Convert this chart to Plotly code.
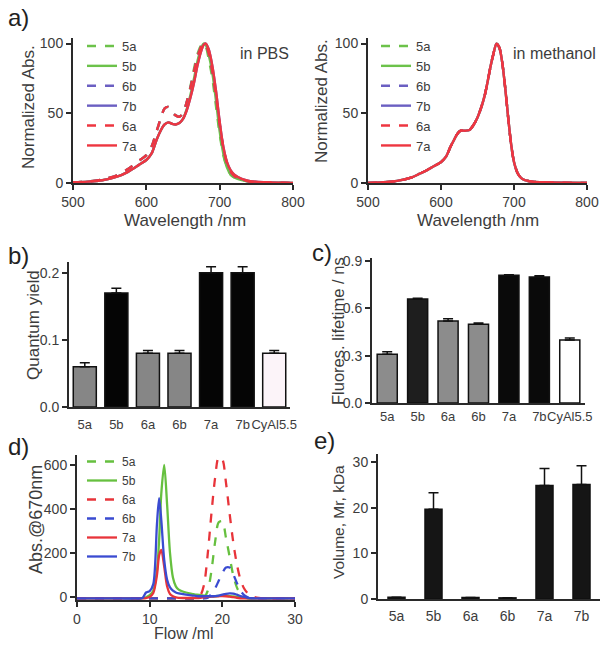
import plotly.graph_objects as go

W, H = 613, 649

# ---------------- data ----------------
# a) PBS spectra
wl_pbs = [500, 520, 540, 560, 575, 590, 600, 607, 614, 620, 625, 630, 635, 640, 645, 650, 655, 660,
          665, 670, 675, 678, 681, 685, 690, 695, 700, 705, 710, 715, 720, 730, 740, 760, 800]
pbs_7a = [0.5, 1, 2, 4.5, 8, 13, 16.5, 21, 31, 38, 42, 43.5, 42.5, 42, 43, 46, 52, 61,
          72, 85, 95, 99, 100, 96, 84, 66, 44, 26, 15, 9, 6, 3, 1.5, 0.5, 0]
pbs_7b = [0.5, 1, 2, 4.5, 8, 13, 16.5, 21, 31, 38, 42, 43.5, 42.5, 42, 43, 46, 52, 61,
          72, 85, 95, 99, 100, 96, 84, 66, 44, 26, 15, 9, 6, 3, 1.5, 0.5, 0]
pbs_5b = [0.5, 1, 2, 4.5, 8, 13, 16.5, 21, 31, 38, 42, 43.5, 42.5, 42, 43, 46, 53, 63,
          75, 88, 97, 100, 99, 92, 79, 59, 37, 21, 11, 6, 4, 2, 1, 0.5, 0]
pbs_6a = [0.5, 1, 2.5, 5.5, 10, 16, 20, 26, 37, 47, 53.5, 54.5, 51, 48.5, 47.5, 50, 58, 68,
          80, 91, 98, 100, 99, 93, 80, 62, 42, 25, 14, 8, 5, 2.5, 1, 0.5, 0]
pbs_6b = [0.5, 1, 2.5, 5.5, 10, 16, 20, 26, 37, 47, 53.5, 54.5, 51, 48.5, 47.5, 50, 58, 68,
          80, 91, 98, 100, 99, 93, 80, 62, 42, 25, 14, 8, 5, 2.5, 1, 0.5, 0]
pbs_5a = [0.5, 1, 2.5, 5.5, 10, 16, 20, 26, 37, 47, 53.5, 54.5, 51, 48.5, 47.5, 50, 58, 69,
          82, 93, 99, 100, 98, 89, 75, 55, 35, 20, 11, 6, 4, 2, 1, 0.5, 0]

# a) methanol spectra (all compounds overlap)
wl_meoh = [500, 520, 540, 560, 570, 580, 590, 600, 607, 613, 618, 622, 627, 633, 639, 645, 650, 655,
           660, 664, 668, 672, 676, 680, 684, 688, 692, 696, 700, 705, 710, 715, 725, 740, 800]
meoh = [0, 0.5, 1.5, 4, 6.5, 9, 12, 15, 19, 26, 31, 35, 37.5, 37.5, 38, 42, 47, 54,
        63, 73, 84, 93, 100, 97, 86, 68, 47, 28, 15, 7, 3.5, 2, 1, 0.5, 0]

# b) quantum yield
cats_bc = ["5a", "5b", "6a", "6b", "7a", "7b", "CyAl5.5"]
qy = [0.06, 0.17, 0.08, 0.08, 0.20, 0.20, 0.08]
qy_err = [0.006, 0.007, 0.004, 0.004, 0.009, 0.009, 0.004]
qy_colors = ["#868686", "#050505", "#868686", "#868686", "#050505", "#050505", "#fcf4f9"]

# c) fluorescence lifetime
lt = [0.31, 0.66, 0.52, 0.50, 0.81, 0.80, 0.40]
lt_err = [0.015, 0.004, 0.015, 0.007, 0.004, 0.008, 0.012]
lt_colors = ["#8c8c8c", "#1e1e1e", "#8c8c8c", "#8c8c8c", "#0a0a0a", "#0a0a0a", "#ffffff"]

# d) chromatograms
flow = [0, 3, 6, 8, 9, 9.5, 10, 10.5, 11, 11.3, 11.6, 12, 12.4, 12.8, 13.2, 13.6, 14, 15, 16, 16.5,
        17, 17.5, 18, 18.5, 19, 19.5, 20, 20.5, 21, 21.5, 22, 22.5, 23, 23.5, 24, 25, 26, 28, 30]
sec_5a = [-5, -5, -5, -5, -5, -5, -5, -5, -5, -5, -5, -5, -5, -5, -5, -5, -5, -5, -5, -5,
          -5, 0, 30, 120, 250, 340, 345, 270, 185, 100, 45, 15, 2, -3, -5, -5, -5, -5, -5]
sec_5b = [-5, -5, -5, -5, -4, 0, 10, 30, 120, 260, 470, 600, 420, 200, 90, 50, 35, 22, 15, 12,
          10, 8, 6, 5, 5, 7, 8, 7, 6, 4, 2, 0, -2, -4, -5, -5, -5, -5, -5]
sec_6a = [-5, -5, -5, -5, -5, -5, -5, -5, -5, -5, -5, -5, -5, -5, -5, -5, -5, -5, -5, -3,
          10, 60, 200, 380, 540, 635, 625, 520, 380, 250, 150, 80, 40, 18, 5, -3, -5, -5, -5]
sec_6b = [-5, -5, -5, -5, -5, -5, -5, -5, -5, -5, -5, -5, -5, -5, -5, -5, -5, -5, -5, -5,
          -5, -5, -2, 15, 40, 75, 110, 135, 135, 105, 65, 30, 10, 0, -4, -5, -5, -5, -5]
sec_7a = [-5, -5, -5, -5, -5, -3, 2, 20, 100, 190, 215, 140, 50, 15, 5, 0, -2, -3, -3, -3,
          -2, 0, 2, 3, 4, 5, 6, 5, 3, 1, -2, -4, -5, -5, -5, -5, -5, -5, -5]
sec_7b = [-5, -5, -5, -5, -3, 22, 28, 60, 330, 450, 350, 170, 80, 45, 30, 22, 18, 12, 8, 6,
          5, 5, 5, 5, 6, 8, 12, 16, 18, 17, 12, 6, 2, -2, -4, -5, -5, -5, -5]

# e) apparent size
cats_e = ["5a", "5b", "6a", "6b", "7a", "7b"]
vol = [0.4, 19.7, 0.35, 0.25, 24.9, 25.1]
vol_err = [0, 3.6, 0, 0, 3.7, 4.1]

# ---------------- styling ----------------
GREEN_A, PURPLE_A, RED_A = "#6cc24a", "#6b5fc2", "#ee3640"
GREEN_D, RED_D, BLUE_D = "#66c03f", "#e8343a", "#3a4bd1"
TXT = "#3c3c3c"
AX = "#2a2a2a"
FONT = "Liberation Sans, Arial, sans-serif"


def px_x(p):
    return p / W


def px_y(p):
    return 1 - p / H


fig = go.Figure()

# a-left
pbs_series = [("5a", pbs_5a, GREEN_A, "dash"), ("5b", pbs_5b, GREEN_A, "solid"),
              ("6b", pbs_6b, PURPLE_A, "dash"), ("7b", pbs_7b, PURPLE_A, "solid"),
              ("6a", pbs_6a, RED_A, "dash"), ("7a", pbs_7a, RED_A, "solid")]
for name, ys, col, dash in pbs_series:
    fig.add_trace(go.Scatter(x=wl_pbs, y=ys, name=name, mode="lines", line_shape="spline",
                             line=dict(color=col, width=2.4, dash=dash, smoothing=0.8),
                             xaxis="x", yaxis="y", legend="legend"))

# a-right
meoh_series = [("5a", GREEN_A, "dash"), ("5b", GREEN_A, "solid"), ("6b", PURPLE_A, "dash"),
               ("7b", PURPLE_A, "solid"), ("6a", RED_A, "dash"), ("7a", RED_A, "solid")]
for name, col, dash in meoh_series:
    fig.add_trace(go.Scatter(x=wl_meoh, y=meoh, name=name, mode="lines", line_shape="spline",
                             line=dict(color=col, width=2.4, dash=dash, smoothing=0.8),
                             xaxis="x2", yaxis="y2", legend="legend2"))

# b
fig.add_trace(go.Bar(x=cats_bc, y=qy, width=0.73,
                     marker=dict(color=qy_colors, line=dict(color="#111", width=1.5)),
                     error_y=dict(type="data", array=qy_err, arrayminus=[0] * len(qy), symmetric=False,
                                  color="#111", thickness=1.5, width=5),
                     xaxis="x3", yaxis="y3", showlegend=False))
# c
fig.add_trace(go.Bar(x=cats_bc, y=lt, width=0.66,
                     marker=dict(color=lt_colors, line=dict(color="#111", width=1.5)),
                     error_y=dict(type="data", array=lt_err, arrayminus=[0] * len(lt), symmetric=False,
                                  color="#111", thickness=1.5, width=5),
                     xaxis="x4", yaxis="y4", showlegend=False))

# d
sec_series = [("5a", sec_5a, GREEN_D, "dash"), ("5b", sec_5b, GREEN_D, "solid"),
              ("6a", sec_6a, RED_D, "dash"), ("6b", sec_6b, BLUE_D, "dash"),
              ("7a", sec_7a, RED_D, "solid"), ("7b", sec_7b, BLUE_D, "solid")]
for name, ys, col, dash in sec_series:
    fig.add_trace(go.Scatter(x=flow, y=ys, name=name, mode="lines", line_shape="spline",
                             line=dict(color=col, width=2.3, dash=dash, smoothing=0.8),
                             xaxis="x5", yaxis="y5", legend="legend3"))

# e
fig.add_trace(go.Bar(x=cats_e, y=vol, width=0.46,
                     marker=dict(color="#151515", line=dict(color="#111", width=1.5)),
                     error_y=dict(type="data", array=vol_err, arrayminus=[0] * len(vol), symmetric=False,
                                  color="#111", thickness=1.5, width=5),
                     xaxis="x6", yaxis="y6", showlegend=False))


def xax(l, r, **kw):
    d = dict(domain=[px_x(l), px_x(r)], showline=True, linecolor=AX, linewidth=2,
             showgrid=False, zeroline=False, ticks="outside", ticklen=5, tickwidth=1.5,
             tickcolor=AX, tickfont=dict(size=14, color=TXT, family=FONT), automargin=False)
    d.update(kw)
    return d


def yax(top, bottom, **kw):
    d = dict(domain=[px_y(bottom), px_y(top)], showline=True, linecolor=AX, linewidth=2,
             showgrid=False, zeroline=False, ticks="outside", ticklen=5, tickwidth=1.5,
             tickcolor=AX, tickfont=dict(size=14, color=TXT, family=FONT), automargin=False)
    d.update(kw)
    return d


fig.update_layout(
    width=W, height=H, margin=dict(l=0, r=0, t=0, b=0, autoexpand=False),
    paper_bgcolor="white", plot_bgcolor="white",
    font=dict(family=FONT, color=TXT),
    xaxis=xax(73, 293, anchor="y", range=[500, 800], tickvals=[500, 600, 700, 800]),
    yaxis=yax(38, 183, anchor="x", range=[0, 104], tickvals=[0, 50, 100]),
    xaxis2=xax(368, 587, anchor="y2", range=[500, 800], tickvals=[500, 600, 700, 800]),
    yaxis2=yax(38, 183, anchor="x2", range=[0, 104], tickvals=[0, 50, 100]),
    xaxis3=xax(69, 290, anchor="y3", type="category", ticks="", ticklabelstandoff=4, tickangle=0,
               tickfont=dict(size=13, color=TXT, family=FONT)),
    yaxis3=yax(262, 407, anchor="x3", range=[0, 0.216], tickvals=[0, 0.1, 0.2],
               ticktext=["0.0", "0.1", "0.2"]),
    xaxis4=xax(372, 585, anchor="y4", type="category", ticks="", ticklabelstandoff=0, tickangle=0,
               tickfont=dict(size=13, color=TXT, family=FONT)),
    yaxis4=yax(258, 403, anchor="x4", range=[0, 0.92], tickvals=[0, 0.3, 0.6, 0.9],
               ticktext=["0.0", "0.3", "0.6", "0.9"]),
    xaxis5=xax(77, 295, anchor="y5", range=[0, 30], tickvals=[0, 10, 20, 30]),
    yaxis5=yax(455, 600, anchor="x5", range=[-12, 645], tickvals=[0, 200, 400, 600]),
    xaxis6=xax(378, 600, anchor="y6", type="category", ticks="", ticklabelstandoff=3, tickangle=0,
               tickfont=dict(size=14, color=TXT, family=FONT)),
    yaxis6=yax(454, 599, anchor="x6", range=[0, 31.8], tickvals=[0, 10, 20, 30]),
    legend=dict(x=px_x(82), y=px_y(31), xanchor="left", yanchor="top", bgcolor="rgba(0,0,0,0)",
                font=dict(size=13, color=TXT, family=FONT), tracegroupgap=0),
    legend2=dict(x=px_x(376), y=px_y(31), xanchor="left", yanchor="top", bgcolor="rgba(0,0,0,0)",
                 font=dict(size=13, color=TXT, family=FONT), tracegroupgap=0),
    legend3=dict(x=px_x(82), y=px_y(447), xanchor="left", yanchor="top", bgcolor="rgba(0,0,0,0)",
                 font=dict(size=12, color=TXT, family=FONT), tracegroupgap=0),
)


def label(text, x, y, size, angle=0, color=TXT, anchor="center"):
    fig.add_annotation(text=text, x=px_x(x), y=px_y(y), xref="paper", yref="paper",
                       xanchor=anchor, yanchor="middle", showarrow=False, textangle=angle,
                       font=dict(size=size, color=color, family=FONT))


# axis titles
label("Normalized Abs.", 28, 107, 17, -90)
label("Normalized Abs.", 321, 101, 17, -90)
label("Wavelength /nm", 185, 220, 17)
label("Wavelength /nm", 478, 220, 17)
label("Quantum yield", 33, 325, 17, -90)
label("Fluores. lifetime / ns", 338, 331, 16.5, -90)
label("Abs.@670nm", 36, 520, 18, -90)
label("Flow /ml", 184, 633, 16)
label("Volume, Mr, kDa", 338, 522, 15.5, -90)

# panel letters and labels
for t, x, y in [("a)", 6, 18), ("b)", 6, 256), ("c)", 310, 252), ("d)", 6, 446), ("e)", 312, 440)]:
    label(t, x, y, 24, color="#222", anchor="left")
label("in PBS", 238, 53, 16, anchor="left")
label("in methanol", 511, 53, 16, anchor="left")

fig.write_html("out.html", config={"displayModeBar": False},
               post_script="document.body.style.margin='0px';document.body.style.overflow='hidden';")
